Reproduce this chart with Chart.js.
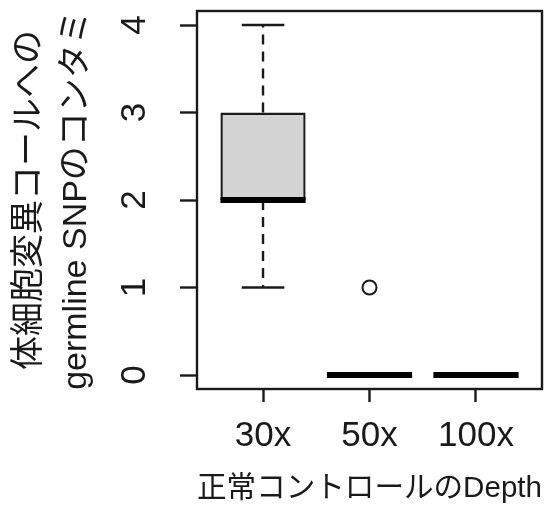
<!DOCTYPE html>
<html>
<head>
<meta charset="utf-8">
<script src="https://cdn.jsdelivr.net/npm/chart.js@4/dist/chart.umd.min.js"></script>
<style>
  html, body { margin: 0; padding: 0; background: #ffffff; }
  #wrap { width: 551px; height: 509px; position: relative; }
</style>
</head>
<body>
<div id="wrap"><canvas id="chart"></canvas></div>
<script>
// Box-plot statistics per normal-control depth
const categories   = ['30x', '50x', '100x'];
const lowerWhisker = [1, 0, 0];
const q1           = [2, 0, 0];
const median       = [2, 0, 0];
const q3           = [3, 0, 0];
const upperWhisker = [4, 0, 0];
const outliers     = [[], [1], []];
const yTicks       = [0, 1, 2, 3, 4];

const yTitle = ['体細胞変異コールへの', 'germline SNPのコンタミ'];
const xTitle = '正常コントロールのDepth';

const INK = '#1a1a1a';
const LATIN = "'Liberation Sans', Arial, 'Noto Sans CJK JP', sans-serif";
const LW = 2.4;

// whiskers, staples, medians and the frame, placed through the chart's scales
const boxParts = {
  id: 'boxParts',
  afterDatasetsDraw(chart) {
    const { ctx, scales: { x, y }, chartArea: a } = chart;
    ctx.save();
    categories.forEach((c, i) => {
      const cx = x.getPixelForValue(i + 1);
      const halfBox = x.getPixelForValue(i + 1 + 0.4) - cx;
      const halfCap = x.getPixelForValue(i + 1 + 0.2) - cx;
      const yLo = y.getPixelForValue(lowerWhisker[i]);
      const yQ1 = y.getPixelForValue(q1[i]);
      const yQ3 = y.getPixelForValue(q3[i]);
      const yHi = y.getPixelForValue(upperWhisker[i]);
      ctx.strokeStyle = INK;
      ctx.lineWidth = LW;
      ctx.lineCap = 'butt';
      // dashed whiskers
      ctx.setLineDash([10, 7]);
      ctx.beginPath();
      if (yHi < yQ3) { ctx.moveTo(cx, yQ3); ctx.lineTo(cx, yHi); }
      if (yLo > yQ1) { ctx.moveTo(cx, yQ1); ctx.lineTo(cx, yLo); }
      ctx.stroke();
      ctx.setLineDash([]);
      // staples
      ctx.beginPath();
      if (yHi < yQ3) { ctx.moveTo(cx - halfCap, yHi); ctx.lineTo(cx + halfCap, yHi); }
      if (yLo > yQ1) { ctx.moveTo(cx - halfCap, yLo); ctx.lineTo(cx + halfCap, yLo); }
      ctx.stroke();
      // median
      const yMed = y.getPixelForValue(median[i]);
      ctx.strokeStyle = '#000000';
      ctx.lineWidth = 6;
      ctx.beginPath();
      ctx.moveTo(cx - halfBox, yMed);
      ctx.lineTo(cx + halfBox, yMed);
      ctx.stroke();
    });
    // plot frame
    ctx.strokeStyle = INK;
    ctx.lineWidth = LW;
    ctx.strokeRect(a.left, a.top, a.right - a.left, a.bottom - a.top);
    ctx.restore();
  }
};

new Chart(document.getElementById('chart'), {
  type: 'bar',
  data: {
    datasets: [
      {
        type: 'bar',
        data: categories.map((c, i) => ({ x: i + 1, y: [q1[i], q3[i]] })),
        backgroundColor: '#d3d3d3',
        borderColor: INK,
        borderWidth: 2.4,
        borderSkipped: false,
        categoryPercentage: 1,
        barPercentage: 0.8,
        order: 2
      },
      {
        type: 'scatter',
        data: outliers.flatMap((vals, i) => vals.map(v => ({ x: i + 1, y: v }))),
        pointStyle: 'circle',
        pointRadius: 7,
        pointBorderWidth: 2,
        pointBorderColor: INK,
        pointBackgroundColor: 'rgba(0,0,0,0)',
        order: 1
      }
    ]
  },
  options: {
    responsive: true,
    maintainAspectRatio: false,
    animation: false,
    layout: { padding: { left: 0, top: 11, right: 4, bottom: 0 } },
    plugins: { legend: { display: false }, tooltip: { enabled: false } },
    scales: {
      x: {
        type: 'linear',
        min: 0.38,
        max: 3.62,
        offset: false,
        afterBuildTicks(s) { s.ticks = categories.map((c, i) => ({ value: i + 1 })); },
        afterFit(s) { s.height = 120; s.paddingLeft = 0; s.paddingRight = 0; },
        border: { display: false },
        grid: {
          offset: false,
          drawOnChartArea: false,
          drawTicks: true,
          tickLength: 13,
          tickWidth: LW,
          tickColor: INK
        },
        ticks: {
          autoSkip: false,
          maxRotation: 0,
          padding: 13,
          color: INK,
          font: { family: LATIN, size: 35 },
          callback: (v) => categories[Math.round(v) - 1]
        },
        title: {
          display: true,
          text: xTitle,
          color: INK,
          font: { family: LATIN, size: 30, lineHeight: 1.2 },
          padding: { top: 0, bottom: 2 }
        }
      },
      y: {
        type: 'linear',
        min: -0.16,
        max: 4.16,
        afterBuildTicks(s) { s.ticks = yTicks.map(v => ({ value: v })); },
        afterFit(s) { s.width = 197; s.paddingTop = 0; s.paddingBottom = 0; },
        border: { display: false },
        grid: {
          drawOnChartArea: false,
          drawTicks: true,
          tickLength: 17,
          tickWidth: LW,
          tickColor: INK
        },
        ticks: {
          autoSkip: false,
          minRotation: 90,
          maxRotation: 90,
          crossAlign: 'center',
          padding: 35,
          color: INK,
          font: { family: LATIN, size: 35 },
          callback: (v) => String(v)
        },
        title: {
          display: true,
          text: yTitle,
          color: INK,
          font: { family: LATIN, size: 34, lineHeight: 1.38 },
          padding: { top: 6, bottom: 0 }
        }
      }
    }
  },
  plugins: [boxParts]
});
</script>
</body>
</html>
